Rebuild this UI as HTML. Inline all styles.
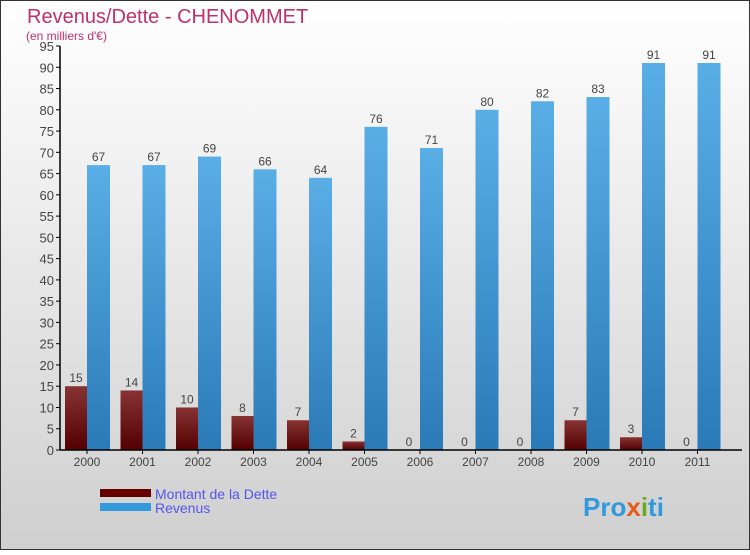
<!DOCTYPE html>
<html><head><meta charset="utf-8"><style>
body{margin:0}
#c{width:750px;height:550px;position:relative;font-family:"Liberation Sans",sans-serif}
</style></head><body>
<div id="c">
<svg width="750" height="550" id="svg">
<defs>
<linearGradient id="bg" x1="0" y1="0" x2="0" y2="1"><stop offset="0" stop-color="#ffffff"/><stop offset="1" stop-color="#cfcfcf"/></linearGradient>
<linearGradient id="gd" x1="0" y1="0" x2="0" y2="1"><stop offset="0" stop-color="#883333"/><stop offset="1" stop-color="#550000"/></linearGradient>
<linearGradient id="gr" x1="0" y1="0" x2="0" y2="1"><stop offset="0" stop-color="#5aaee6"/><stop offset="1" stop-color="#2a7ab8"/></linearGradient>
</defs>
<rect x="0.5" y="0.5" width="749" height="549" fill="url(#bg)" stroke="#333"/>
<text x="27" y="23" font-size="20" fill="#c0306a">Revenus/Dette - CHENOMMET</text>
<text x="26" y="40" font-size="12" fill="#c0306a">(en milliers d'€)</text>
<g id="plot"></g>
<rect x="100" y="489" width="51" height="8" fill="#660000"/>
<rect x="100" y="503" width="51" height="8" fill="#3399dd"/>
<text x="155" y="499" font-size="14" fill="#5555ee">Montant de la Dette</text>
<text x="155" y="513" font-size="14" fill="#5555ee">Revenus</text>
<text x="583" y="516" font-size="26" font-weight="bold" fill="#3399dd">Pro<tspan fill="#e85a1a">x</tspan><tspan fill="#66aa22">i</tspan>ti</text>
</svg>
</div>
<script>
const years=["2000","2001","2002","2003","2004","2005","2006","2007","2008","2009","2010","2011"];
const dette=[15,14,10,8,7,2,0,0,0,7,3,0];
const revenus=[67,67,69,66,64,76,71,80,82,83,91,91];
const yTicks=[0,5,10,15,20,25,30,35,40,45,50,55,60,65,70,75,80,85,90,95];
const NS="http://www.w3.org/2000/svg";
const g=document.getElementById('plot');
const y=v=>450-v*404/95;
const xc=i=>87+i*55.5;
function mk(t,a,txt){const e=document.createElementNS(NS,t);for(const k in a)e.setAttribute(k,a[k]);if(txt!==undefined)e.textContent=txt;g.appendChild(e);return e;}
yTicks.forEach(v=>{
 const l=mk('line',{x1:56,x2:60,y1:y(v),y2:y(v),stroke:'#000'});
 
 
 const t=mk('text',{x:54,y:y(v)+5,'font-size':13,'text-anchor':'end',fill:'#444'},v);
 
 
});
years.forEach((yr,i)=>{
 const c=xc(i);
 const b1=mk('rect',{x:c-22,y:y(dette[i]),width:22,height:450-y(dette[i]),fill:'url(#gd)'});
 
 
 const b2=mk('rect',{x:c,y:y(revenus[i]),width:23,height:450-y(revenus[i]),fill:'url(#gr)'});
 
 
 const t1=mk('text',{x:c-11,y:y(dette[i])-4,'font-size':12,'text-anchor':'middle',fill:'#444'},dette[i]);
 
 
 const t2=mk('text',{x:c+11.5,y:y(revenus[i])-4,'font-size':12,'text-anchor':'middle',fill:'#444'},revenus[i]);
 
 
 const tk=mk('line',{x1:c,x2:c,y1:450,y2:454,stroke:'#000'});
 
 
 const xl=mk('text',{x:c,y:466,'font-size':12,'text-anchor':'middle',fill:'#444'},yr);
 
 
});
const ya=mk('line',{x1:60,x2:60,y1:46,y2:450,stroke:'#000','stroke-width':1.5});


const xa=mk('line',{x1:60,x2:742,y1:450,y2:450,stroke:'#000','stroke-width':1.5});


</script>
</body></html>
